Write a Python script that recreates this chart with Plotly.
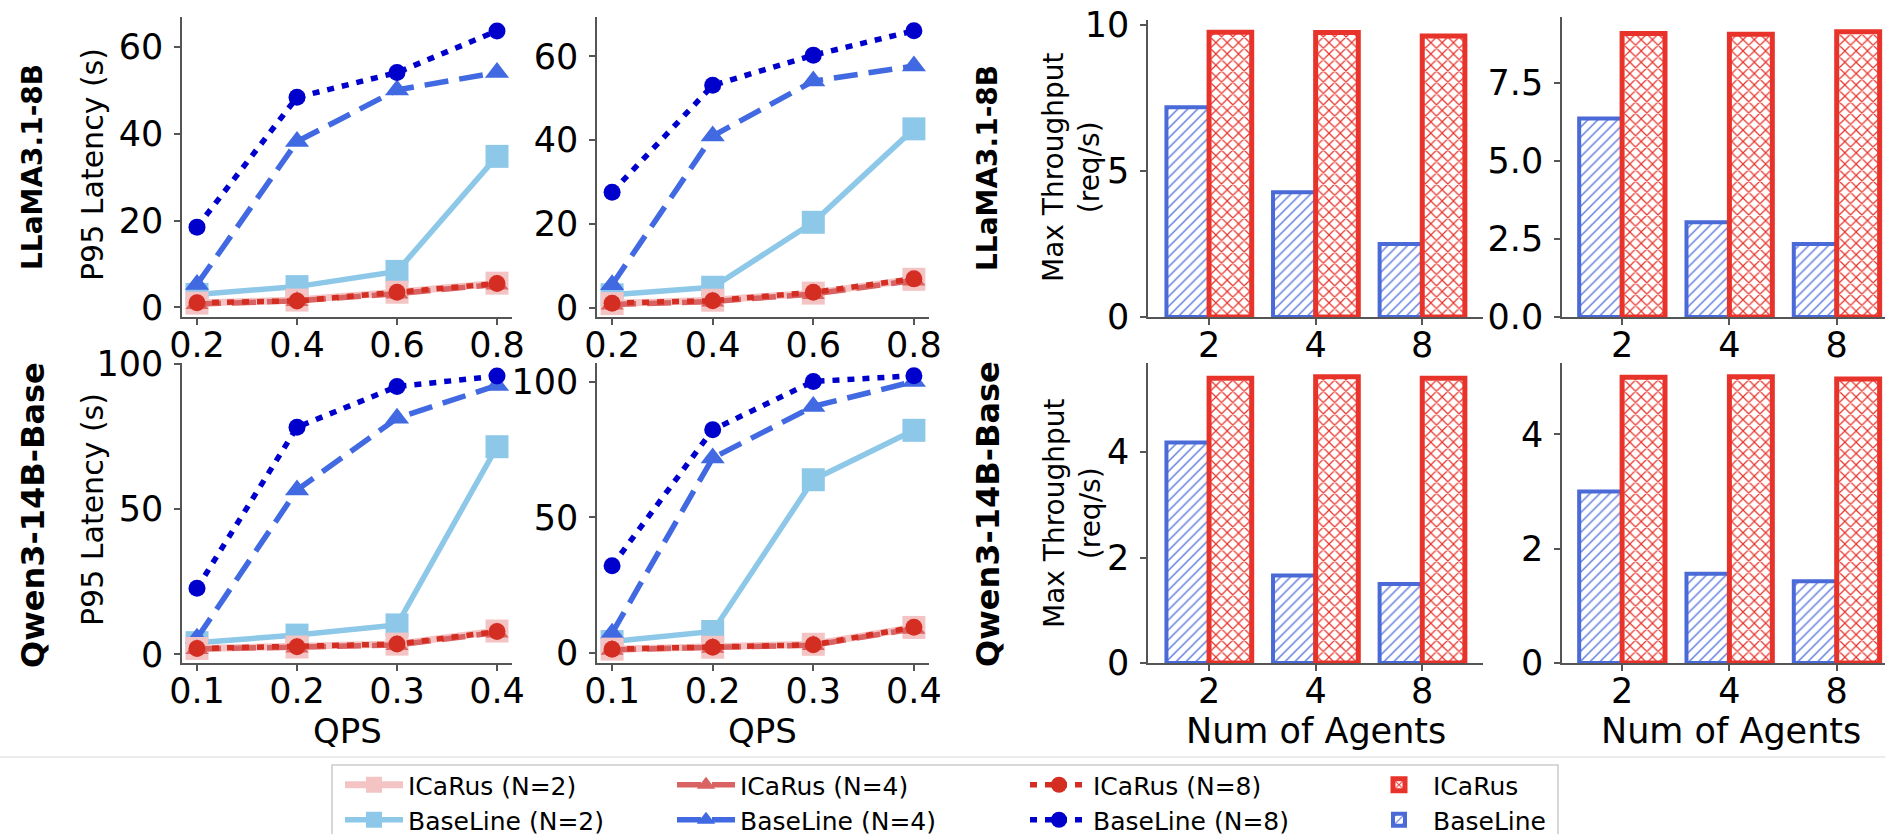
import plotly.graph_objects as go

# ---------------- data ----------------
qps_llama = [0.2, 0.4, 0.6, 0.8]
qps_qwen = [0.1, 0.2, 0.3, 0.4]

# LLaMA3.1-8B, panel a
bl2_l1 = [3.0, 4.8, 8.3, 34.8]
bl4_l1 = [5.3, 38.2, 50.1, 54.1]
bl8_l1 = [18.5, 48.4, 54.1, 63.7]
ic2_l1 = [1.0, 1.7, 3.5, 5.6]
ic4_l1 = [0.8, 1.5, 3.2, 5.3]
ic8_l1 = [1.1, 1.5, 3.5, 5.5]
# LLaMA3.1-8B, panel b
bl2_l2 = [3.1, 4.9, 20.4, 42.7]
bl4_l2 = [5.5, 41.0, 54.1, 57.7]
bl8_l2 = [27.6, 53.1, 60.3, 66.1]
ic2_l2 = [1.0, 1.8, 3.5, 6.8]
ic4_l2 = [0.8, 1.5, 3.3, 6.5]
ic8_l2 = [1.1, 1.7, 3.7, 6.9]
# Qwen3-14B-Base, panel a
bl2_q1 = [4.0, 6.6, 10.1, 71.4]
bl4_q1 = [5.5, 56.5, 81.2, 92.5]
bl8_q1 = [22.7, 78.1, 92.1, 95.7]
ic2_q1 = [2.0, 2.5, 3.5, 8.0]
ic4_q1 = [1.8, 2.3, 3.2, 7.5]
ic8_q1 = [2.0, 2.6, 3.5, 7.8]
# Qwen3-14B-Base, panel b
bl2_q2 = [4.3, 8.0, 63.9, 82.1]
bl4_q2 = [7.4, 71.9, 90.9, 100.1]
bl8_q2 = [32.2, 82.3, 100.1, 102.2]
ic2_q2 = [1.5, 2.2, 3.3, 9.5]
ic4_q2 = [1.3, 2.0, 3.0, 9.0]
ic8_q2 = [1.5, 2.2, 3.1, 9.6]

agents = ["2", "4", "8"]
bar_bl_l1 = [7.18, 4.27, 2.50]
bar_ic_l1 = [9.75, 9.74, 9.62]
bar_bl_l2 = [6.35, 3.03, 2.34]
bar_ic_l2 = [9.07, 9.05, 9.13]
bar_bl_q1 = [4.18, 1.66, 1.50]
bar_ic_q1 = [5.40, 5.43, 5.40]
bar_bl_q2 = [3.00, 1.56, 1.43]
bar_ic_q2 = [5.00, 5.01, 4.97]

# ---------------- styles ----------------
W, H = 1885, 834
FONT = "DejaVu Sans"
C_BL2 = "#8ec8e8"
C_BL4 = "#4169e1"
C_BL8 = "#0000cd"
C_IC2 = "#f4c4c4"
C_IC4 = "#d96262"
C_IC8 = "#d42e22"
C_BAR_IC = "#e8332b"
C_BAR_BL = "#4a6ad8"
DOT = "7px,8px"
DASH = "24px,11px"
TICK_SIZE = 35

def px_x(x):
    return x / W

def px_y(y):
    return 1 - y / H

fig = go.Figure()

line_specs = [
    # name, color, dash, symbol, size, width, legend, rank, legendwidth
    ("BaseLine (N=2)", C_BL2, "solid", "square", 23, 5.5, "legend2", 1, 259),
    ("BaseLine (N=4)", C_BL4, DASH, "triangle-up", 21, 5.5, "legend2", 2, 280),
    ("BaseLine (N=8)", C_BL8, DOT, "circle", 17, 5.5, "legend2", 3, 267),
    ("ICaRus (N=2)", C_IC2, "solid", "square", 23, 7, "legend", 1, 259),
    ("ICaRus (N=4)", C_IC4, DASH, "triangle-up", 20, 5.5, "legend", 2, 280),
    ("ICaRus (N=8)", C_IC8, DOT, "circle", 17, 5.5, "legend", 3, 267),
]

panels = [
    ("x", "y", qps_llama, [bl2_l1, bl4_l1, bl8_l1, ic2_l1, ic4_l1, ic8_l1]),
    ("x2", "y2", qps_llama, [bl2_l2, bl4_l2, bl8_l2, ic2_l2, ic4_l2, ic8_l2]),
    ("x3", "y3", qps_qwen, [bl2_q1, bl4_q1, bl8_q1, ic2_q1, ic4_q1, ic8_q1]),
    ("x4", "y4", qps_qwen, [bl2_q2, bl4_q2, bl8_q2, ic2_q2, ic4_q2, ic8_q2]),
]

for pi, (xa, ya, xs, series) in enumerate(panels):
    for (name, col, dash, sym, msz, lw, lg, rank, lw_leg), ys in zip(line_specs, series):
        fig.add_trace(go.Scatter(
            x=xs, y=ys, xaxis=xa, yaxis=ya, mode="lines+markers", name=name,
            line=dict(color=col, width=lw, dash=dash),
            marker=dict(color=col, symbol=sym, size=msz, line=dict(width=0)),
            legend=lg, showlegend=(pi == 0), legendgroup=name,
            legendrank=rank, legendwidth=lw_leg, cliponaxis=False,
        ))

bar_panels = [
    ("x5", "y5", bar_bl_l1, bar_ic_l1),
    ("x6", "y6", bar_bl_l2, bar_ic_l2),
    ("x7", "y7", bar_bl_q1, bar_ic_q1),
    ("x8", "y8", bar_bl_q2, bar_ic_q2),
]
for pi, (xa, ya, bl, ic) in enumerate(bar_panels):
    fig.add_trace(go.Bar(
        x=agents, y=bl, xaxis=xa, yaxis=ya, name="BaseLine",
        marker=dict(color=C_BAR_BL, line=dict(color=C_BAR_BL, width=4),
                    pattern=dict(shape="/", fgcolor="#5b78de", bgcolor="white",
                                 size=7, solidity=0.2, fillmode="replace")),
        legend="legend2", showlegend=(pi == 0), legendrank=4, legendwidth=120,
    ))
    fig.add_trace(go.Bar(
        x=agents, y=ic, xaxis=xa, yaxis=ya, name="ICaRus",
        marker=dict(color=C_BAR_IC, line=dict(color=C_BAR_IC, width=5),
                    pattern=dict(shape="x", fgcolor=C_BAR_IC, bgcolor="white",
                                 size=8, solidity=0.28, fillmode="replace")),
        legend="legend", showlegend=(pi == 0), legendrank=4, legendwidth=120,
    ))

# ---------------- axes ----------------
axis_common = dict(
    showgrid=False, zeroline=False, showline=True, linecolor="#555555", linewidth=1.5,
    ticks="outside", ticklen=6, tickwidth=1.5, tickcolor="#555555",
    tickfont=dict(family=FONT, size=TICK_SIZE, color="black"), mirror=False,
)
xax = dict(axis_common, ticklabelstandoff=-10)
yax = dict(axis_common, ticklabelstandoff=4)

top_dom = [px_y(317), px_y(17)]
bot_dom = [px_y(663), px_y(363)]
lx1 = [px_x(182), px_x(512)]
lx2 = [px_x(597), px_x(929)]
bx1 = [px_x(1148), px_x(1483)]
bx2 = [px_x(1562), 1.0]

layout = dict(
    width=W, height=H, margin=dict(l=0, r=0, t=0, b=0, autoexpand=False),
    paper_bgcolor="white", plot_bgcolor="white",
    font=dict(family=FONT, color="black"),
    barmode="group", bargap=0.2, bargroupgap=0.0,
)

layout["xaxis"] = dict(xax, domain=lx1, anchor="y", range=[0.17, 0.83],
                       tickvals=qps_llama, ticktext=["0.2", "0.4", "0.6", "0.8"])
layout["yaxis"] = dict(yax, domain=top_dom, anchor="x", range=[-2.2, 66.9],
                       tickvals=[0, 20, 40, 60])
layout["xaxis2"] = dict(xax, domain=lx2, anchor="y2", range=[0.17, 0.83],
                        tickvals=qps_llama, ticktext=["0.2", "0.4", "0.6", "0.8"])
layout["yaxis2"] = dict(yax, domain=top_dom, anchor="x2", range=[-2.2, 69.4],
                        tickvals=[0, 20, 40, 60])
layout["xaxis3"] = dict(xax, domain=lx1, anchor="y3", range=[0.085, 0.415],
                        tickvals=qps_qwen, ticktext=["0.1", "0.2", "0.3", "0.4"])
layout["yaxis3"] = dict(yax, domain=bot_dom, anchor="x3", range=[-3.0, 100.2],
                        tickvals=[0, 50, 100])
layout["xaxis4"] = dict(xax, domain=lx2, anchor="y4", range=[0.085, 0.415],
                        tickvals=qps_qwen, ticktext=["0.1", "0.2", "0.3", "0.4"])
layout["yaxis4"] = dict(yax, domain=bot_dom, anchor="x4", range=[-3.6, 106.9],
                        tickvals=[0, 50, 100])

layout["xaxis5"] = dict(xax, domain=bx1, anchor="y5", type="category",
                        range=[-0.573, 2.57])
layout["yaxis5"] = dict(yax, domain=[px_y(317), px_y(20)], anchor="x5",
                        range=[0, 10.17], tickvals=[0, 5, 10])
layout["xaxis6"] = dict(xax, domain=bx2, anchor="y6", type="category",
                        range=[-0.56, 2.45])
layout["yaxis6"] = dict(yax, domain=[px_y(317), px_y(17)], anchor="x6",
                        range=[0, 9.6], tickvals=[0, 2.5, 5, 7.5],
                        ticktext=["0.0", "2.5", "5.0", "7.5"])
layout["xaxis7"] = dict(xax, domain=bx1, anchor="y7", type="category",
                        range=[-0.573, 2.57])
layout["yaxis7"] = dict(yax, domain=bot_dom, anchor="x7",
                        range=[0, 5.69], tickvals=[0, 2, 4])
layout["xaxis8"] = dict(xax, domain=bx2, anchor="y8", type="category",
                        range=[-0.56, 2.45])
layout["yaxis8"] = dict(yax, domain=bot_dom, anchor="x8",
                        range=[0, 5.25], tickvals=[0, 2, 4])

legend_common = dict(
    orientation="h", xanchor="left", yanchor="middle",
    xref="container", yref="container", x=px_x(340),
    font=dict(family=FONT, size=25, color="black"), bgcolor="rgba(0,0,0,0)",
    borderwidth=0, itemwidth=58, traceorder="normal", tracegroupgap=0,
)
layout["legend"] = dict(legend_common, y=px_y(785))
layout["legend2"] = dict(legend_common, y=px_y(820))

fig.update_layout(**layout)

# ---------------- annotations ----------------
def ann(text, x, y, size, angle=0, bold=False):
    fig.add_annotation(
        text=("<b>%s</b>" % text) if bold else text,
        x=px_x(x), y=px_y(y), xref="paper", yref="paper",
        xanchor="center", yanchor="middle", showarrow=False, textangle=angle,
        font=dict(family=FONT, size=size, color="black"),
    )

ann("LLaMA3.1-8B", 33, 167, 28, -90, True)
ann("Qwen3-14B-Base", 33, 515, 32, -90, True)
ann("LLaMA3.1-8B", 988, 168, 28, -90, True)
ann("Qwen3-14B-Base", 988, 514, 32, -90, True)
ann("P95 Latency (s)", 92, 165, 30, -90)
ann("P95 Latency (s)", 92, 510, 30, -90)
ann("QPS", 347, 731, 34)
ann("QPS", 762, 731, 34)
ann("Max Throughput<br>(req/s)", 1072, 168, 28, -90)
ann("Max Throughput<br>(req/s)", 1072, 514, 28, -90)
ann("Num of Agents", 1316, 731, 35)
ann("Num of Agents", 1731, 731, 35)

# separator line and legend frame
fig.add_shape(type="line", xref="paper", yref="paper", x0=0, x1=1,
              y0=px_y(757), y1=px_y(757), line=dict(color="#e6e6e6", width=1.5),
              layer="below")
fig.add_shape(type="rect", xref="paper", yref="paper", x0=px_x(332), x1=px_x(1558),
              y0=px_y(850), y1=px_y(765), line=dict(color="#cccccc", width=1.5),
              layer="below")

fig.write_html(
    "out.html",
    config={"displayModeBar": False},
    post_script="document.body.style.margin='0';document.body.style.overflow='hidden';",
)
